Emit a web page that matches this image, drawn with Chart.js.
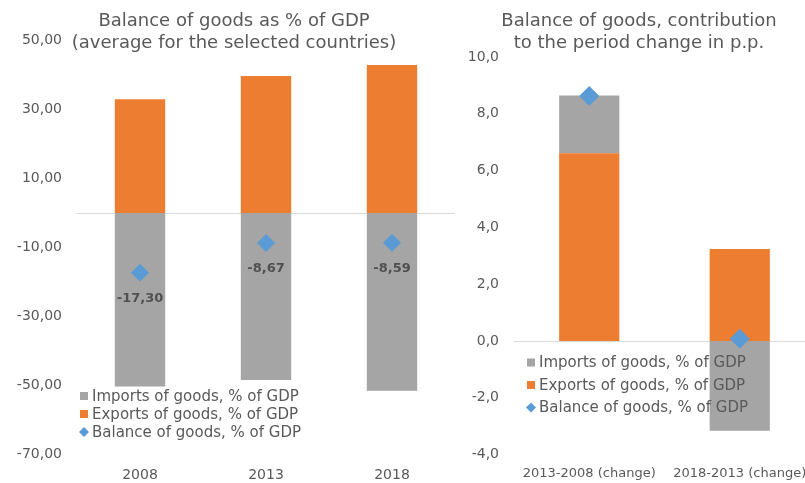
<!DOCTYPE html>
<html>
<head>
<meta charset="utf-8">
<script src="https://cdn.jsdelivr.net/npm/chart.js@4.4.0/dist/chart.umd.min.js"></script>
<style>
    html, body { margin: 0; padding: 0; background: #fff; overflow: hidden; }
    #quadro { position: relative; width: 805px; height: 483px; overflow: hidden; }
    #graficoEsq { position: absolute; left: 0; top: 0; }
    #graficoDir { position: absolute; left: 462px; top: 0; }
</style>
</head>
<body>
<div id="quadro">
    <canvas id="graficoEsq" width="468" height="483"></canvas>
    <canvas id="graficoDir" width="363" height="483"></canvas>
</div>
<script>
// dados
const anos = ['2008', '2013', '2018'];
const importacoes = [-50.3, -48.4, -51.5];
const exportacoes = [33.0, 39.7, 42.9];
const saldo = [-17.30, -8.67, -8.59];

const periodos = ['2013-2008 (change)', '2018-2013 (change)'];
const importacoesVar = [2.03, -3.16];
const exportacoesVar = [6.61, 3.24];
const saldoVar = [8.63, 0.08];

const nomes = ['Imports of goods, % of GDP', 'Exports of goods, % of GDP', 'Balance of goods, % of GDP'];
const tituloEsq = ['Balance of goods as % of GDP', '(average for the selected countries)'];
const tituloDir = ['Balance of goods, contribution', 'to the period change in p.p.'];

const cores = {
    imp: '#A5A5A5',
    exp: '#ED7D31',
    saldo: '#5B9BD5',
    texto: '#595959',
    zero: '#D9D9D9'
};
const fonte = '"DejaVu Sans", Verdana, sans-serif';

function virgula(v, casas) {
    return v.toFixed(casas).replace('.', ',');
}

function desenharLosango(ctx, x, y, r) {
    ctx.beginPath();
    ctx.moveTo(x, y - r);
    ctx.lineTo(x + r, y);
    ctx.lineTo(x, y + r);
    ctx.lineTo(x - r, y);
    ctx.closePath();
    ctx.fill();
}

// linha do zero, titulo, legenda e rotulos
const extras = {
    id: 'extras',
    beforeDatasetsDraw(chart) {
        const ctx = chart.ctx;
        const area = chart.chartArea;
        const y0 = Math.round(chart.scales.y.getPixelForValue(0)) + 0.5;
        ctx.save();
        ctx.strokeStyle = cores.zero;
        ctx.lineWidth = 1;
        ctx.beginPath();
        ctx.moveTo(area.left, y0);
        ctx.lineTo(area.right, y0);
        ctx.stroke();
        ctx.restore();
    },
    afterDraw(chart, args, opts) {
        const ctx = chart.ctx;
        ctx.save();
        ctx.fillStyle = cores.texto;
        ctx.textAlign = 'center';
        ctx.textBaseline = 'middle';
        ctx.font = '18px ' + fonte;
        opts.titulo.forEach((linha, i) => {
            ctx.fillText(linha, opts.tituloX, 21 + i * 22);
        });

        if (opts.rotulos) {
            const meta = chart.getDatasetMeta(2);
            ctx.font = 'bold 13px ' + fonte;
            ctx.fillStyle = '#505050';
            meta.data.forEach((p, i) => {
                ctx.fillText(virgula(chart.data.datasets[2].data[i], 2), p.x, p.y + 25.5);
            });
        }

        const leg = opts.legenda;
        ctx.textAlign = 'left';
        ctx.font = '15px ' + fonte;
        const marcas = [cores.imp, cores.exp, cores.saldo];
        nomes.forEach((nome, i) => {
            const y = leg.y + i * leg.passo;
            ctx.fillStyle = marcas[i];
            if (i < 2) {
                ctx.fillRect(leg.x, y - 4, 8, 8);
            } else {
                desenharLosango(ctx, leg.x + 4, y, 5);
            }
            ctx.fillStyle = cores.texto;
            ctx.fillText(nome, leg.x + 12, y + 1);
        });
        ctx.restore();
    }
};

function montarGrafico(id, cfg) {
    const ctx = document.getElementById(id).getContext('2d');
    return new Chart(ctx, {
        type: 'bar',
        data: {
            labels: cfg.labels,
            datasets: [
                {
                    label: nomes[1],
                    data: cfg.exp,
                    backgroundColor: cores.exp,
                    borderWidth: 0,
                    barPercentage: 0.4,
                    categoryPercentage: 1
                },
                {
                    label: nomes[0],
                    data: cfg.imp,
                    backgroundColor: cores.imp,
                    borderWidth: 0,
                    barPercentage: 0.4,
                    categoryPercentage: 1
                },
                {
                    type: 'line',
                    label: nomes[2],
                    data: cfg.saldo,
                    stack: 'saldo',
                    showLine: false,
                    order: -1,
                    pointStyle: 'rectRot',
                    pointRadius: cfg.raio,
                    pointBackgroundColor: cores.saldo,
                    pointBorderWidth: 0
                }
            ]
        },
        options: {
            responsive: false,
            animation: false,
            layout: { padding: { top: cfg.topo, right: cfg.dir, left: 0, bottom: 0 } },
            scales: {
                x: {
                    stacked: true,
                    grid: { display: false, drawTicks: false },
                    border: { display: false },
                    ticks: {
                        color: cores.texto,
                        padding: cfg.padX,
                        maxRotation: 0,
                        autoSkip: false,
                        font: { family: fonte, size: cfg.fonteX }
                    },
                    afterFit: s => { s.height = 28.5; }
                },
                y: {
                    stacked: true,
                    min: cfg.min,
                    max: cfg.max,
                    grid: { display: false, drawTicks: false },
                    border: { display: false },
                    ticks: {
                        stepSize: cfg.passo,
                        color: cores.texto,
                        padding: 15,
                        font: { family: fonte, size: 14 },
                        callback: v => virgula(v, cfg.casas)
                    },
                    afterFit: s => { s.width = cfg.largY; }
                }
            },
            plugins: {
                legend: { display: false },
                tooltip: { enabled: false },
                extras: {
                    titulo: cfg.titulo,
                    tituloX: cfg.tituloX,
                    rotulos: cfg.rotulos,
                    legenda: cfg.legenda
                }
            }
        },
        plugins: [extras]
    });
}

montarGrafico('graficoEsq', {
    labels: anos,
    exp: exportacoes,
    imp: importacoes,
    saldo: saldo,
    raio: 9,
    min: -70, max: 50, passo: 20, casas: 2,
    topo: 40.5, dir: 13, largY: 77,
    padX: 12, fonteX: 14,
    titulo: tituloEsq, tituloX: 234,
    rotulos: true,
    legenda: { x: 80, y: 396, passo: 18 }
});

montarGrafico('graficoDir', {
    labels: periodos,
    exp: exportacoesVar,
    imp: importacoesVar,
    saldo: saldoVar,
    raio: 10,
    min: -4, max: 10, passo: 2, casas: 1,
    topo: 57, dir: 1, largY: 52,
    padX: 11, fonteX: 13,
    titulo: tituloDir, tituloX: 177,
    rotulos: false,
    legenda: { x: 65, y: 362.5, passo: 22.5 }
});
</script>
</body>
</html>
